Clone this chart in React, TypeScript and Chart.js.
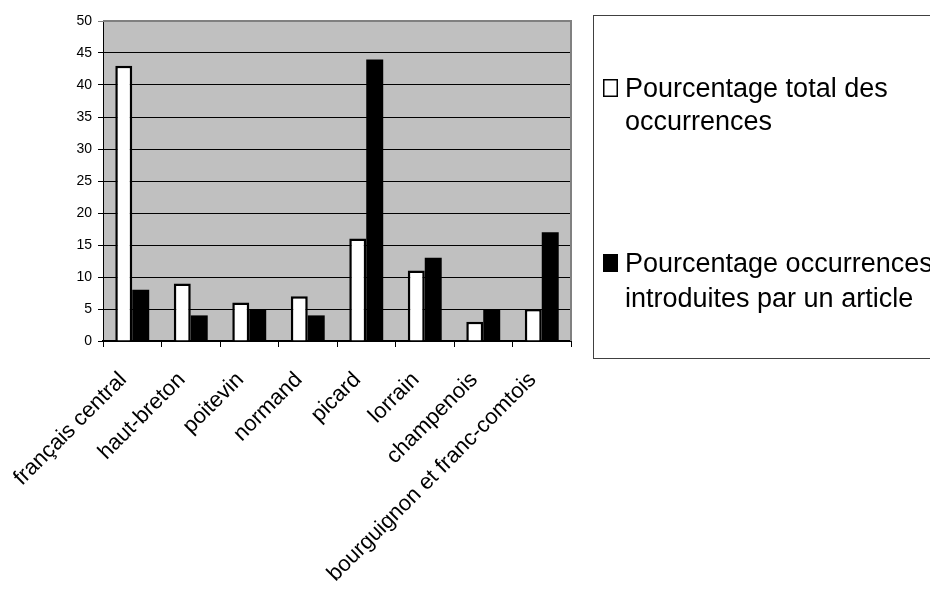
import React, { useEffect, useRef } from "react";
import { Chart, registerables } from "chart.js";

Chart.register(...registerables);

const categories = [
  "français central",
  "haut-breton",
  "poitevin",
  "normand",
  "picard",
  "lorrain",
  "champenois",
  "bourguignon et franc-comtois",
];
const totalPct = [43, 9, 6, 7, 16, 11, 3, 5];
const articlePct = [8, 4, 5, 4, 44, 13, 5, 17];
const seriesLabels = [
  "Pourcentage total des occurrences",
  "Pourcentage occurrences introduites par un article",
];
const legendLines = [
  ["Pourcentage total des", "occurrences"],
  ["Pourcentage occurrences", "introduites par un article"],
];
const yMin = 0;
const yMax = 50;
const yStep = 5;

const FONT = "'Liberation Sans', Arial, sans-serif";

const plotBg = {
  id: "plotBg",
  beforeDraw(chart: any) {
    const { ctx, chartArea: a } = chart;
    ctx.save();
    ctx.fillStyle = "#C0C0C0";
    ctx.fillRect(a.left, a.top, a.right - a.left, a.bottom - a.top);
    ctx.restore();
  },
  afterDatasetsDraw(chart: any) {
    const { ctx, chartArea: a } = chart;
    ctx.save();
    ctx.strokeStyle = "#808080";
    ctx.lineWidth = 2;
    ctx.beginPath();
    ctx.moveTo(a.left, a.top);
    ctx.lineTo(a.right, a.top);
    ctx.lineTo(a.right, a.bottom);
    ctx.stroke();
    ctx.restore();
  },
};

const boxLegend = {
  id: "boxLegend",
  afterDraw(chart: any) {
    const ctx = chart.ctx;
    ctx.save();
    ctx.strokeStyle = "#404040";
    ctx.lineWidth = 1;
    ctx.strokeRect(593.5, 15.5, 400, 343);
    ctx.font = "27px " + FONT;
    ctx.textBaseline = "alphabetic";
    ctx.textAlign = "left";
    const rows = [
      [97, 130],
      [272, 307],
    ];
    chart.data.datasets.forEach((ds: any, i: number) => {
      const [y1, y2] = rows[i];
      ctx.fillStyle = ds.backgroundColor;
      ctx.fillRect(603, y1 - 18, 15, 18);
      ctx.strokeStyle = "#000";
      ctx.lineWidth = 1.5;
      ctx.strokeRect(603.75, y1 - 17.25, 13.5, 16.5);
      ctx.fillStyle = "#000";
      ctx.fillText(legendLines[i][0], 625, y1);
      ctx.fillText(legendLines[i][1], 625, y2);
    });
    ctx.restore();
  },
};

export default function App() {
  const ref = useRef<HTMLCanvasElement | null>(null);

  useEffect(() => {
    if (!ref.current) return;
    const chart = new Chart(ref.current, {
      type: "bar",
      data: {
        labels: categories,
        datasets: [
          {
            label: seriesLabels[0],
            data: totalPct,
            backgroundColor: "#FFFFFF",
            borderColor: "#000000",
            borderWidth: 2.5,
            categoryPercentage: 0.58,
            barPercentage: 1,
          },
          {
            label: seriesLabels[1],
            data: articlePct,
            backgroundColor: "#000000",
            borderColor: "#000000",
            borderWidth: 0,
            categoryPercentage: 0.58,
            barPercentage: 1,
          },
        ],
      },
      options: {
        responsive: false,
        animation: false,
        layout: { padding: { top: 21, right: 359, left: 0, bottom: 0 } },
        plugins: {
          legend: { display: false },
          tooltip: { enabled: false },
        },
        scales: {
          x: {
            offset: true,
            grid: {
              offset: true,
              drawOnChartArea: false,
              drawTicks: true,
              tickLength: 6,
              color: "#000",
              lineWidth: 1,
            },
            border: { display: true, color: "#000", width: 2 },
            ticks: {
              autoSkip: false,
              minRotation: 45,
              maxRotation: 45,
              padding: 20,
              labelOffset: -9,
              color: "#000",
              font: { family: FONT, size: 22 },
            },
            afterFit(scale: any) {
              scale.height = 248;
            },
          },
          y: {
            min: yMin,
            max: yMax,
            ticks: {
              stepSize: yStep,
              padding: 6,
              color: "#000",
              font: { family: FONT, size: 14 },
            },
            grid: {
              color: (c: any) => (c.tick && c.tick.value === yMax ? "#808080" : "#000"),
              lineWidth: 1,
              tickLength: 5,
              drawTicks: true,
            },
            border: { display: true, color: "#000", width: 1 },
            afterFit(scale: any) {
              scale.width = 103;
            },
          },
        },
      },
      plugins: [plotBg, boxLegend],
    });
    return () => chart.destroy();
  }, []);

  return (
    <div style={{ position: "fixed", left: 0, top: 0, width: 930, height: 589, background: "#fff" }}>
      <canvas ref={ref} width={930} height={589} style={{ display: "block" }} />
    </div>
  );
}
